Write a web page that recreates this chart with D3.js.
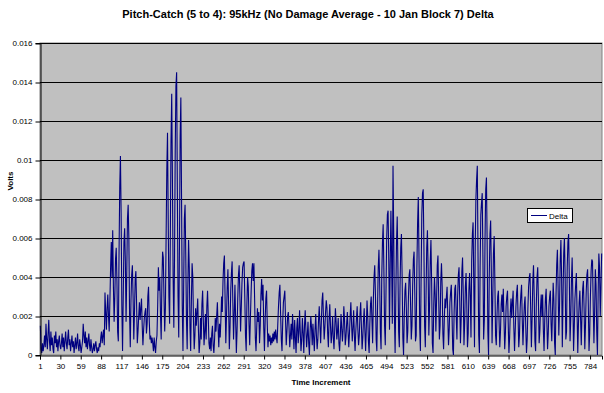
<!DOCTYPE html>
<html><head><meta charset="utf-8">
<script src="https://cdn.jsdelivr.net/npm/d3@7"></script>
<style>body{margin:0;background:#fff} svg{display:block} text{font-family:"Liberation Sans",Arial,sans-serif}</style>
</head><body><svg id="c" width="604" height="393"></svg>
<script>
const title = "Pitch-Catch (5 to 4): 95kHz (No Damage Average - 10 Jan Block 7) Delta";
const seriesName = "Delta";
const xAxisTitle = "Time Increment";
const yAxisTitle = "Volts";
const yTicks = [0, 0.002, 0.004, 0.006, 0.008, 0.01, 0.012, 0.014, 0.016];
const yTickLabels = ["0", "0.002", "0.004", "0.006", "0.008", "0.01", "0.012", "0.014", "0.016"];
const xTickLabels = [1, 30, 59, 88, 117, 146, 175, 204, 233, 262, 291, 320, 349, 378, 407, 436, 465, 494, 523, 552, 581, 610, 639, 668, 697, 726, 755, 784];
const delta = [
0.0015,0.0003,0.0001,0.0006,0.0002,0.0005,0.0010,0.0004,0.0016,0.0008,
0.0003,0.0011,0.0018,0.0007,0.0002,0.0012,0.0005,0.0009,0.0003,0.0001,
0.0010,0.0006,0.0012,0.0004,0.0008,0.0002,0.0007,0.0010,0.0005,0.0003,
0.0006,0.0011,0.0004,0.0009,0.0002,0.0007,0.0012,0.0006,0.0003,0.0009,
0.0013,0.0005,0.0008,0.0002,0.0006,0.0010,0.0004,0.0007,0.0001,0.0005,
0.0009,0.0003,0.0006,0.0011,0.0004,0.0002,0.0008,0.0005,0.0001,0.0004,
0.0007,0.0016,0.0010,0.0006,0.0012,0.0004,0.0009,0.0003,0.0007,0.0011,
0.0005,0.0002,0.0008,0.0004,0.0001,0.0003,0.0006,0.0002,0.0005,0.0007,
0.0003,0.0001,0.0004,0.0002,0.0006,0.0004,0.0009,0.0012,0.0006,0.0010,
0.0013,0.0005,
0.0032,0.0022,0.0013,0.0024,0.0031,0.0020,0.0012,0.0028,
0.0045,0.0058,0.0040,0.0064,0.0035,0.0017,0.0030,0.0049,0.0055,0.0038,
0.0012,0.0007,0.0052,0.0086,0.0102,0.0072,0.0025,0.0002,0.0030,0.0058,
0.0065,0.0048,0.0017,0.0042,0.0070,0.0077,0.0060,0.0021,0.0004,0.0028,
0.0041,0.0046,0.0030,0.0008,0.0022,0.0039,0.0043,0.0026,0.0006,0.0012,
0.0020,0.0027,0.0018,0.0024,0.0029,0.0015,0.0005,0.0013,0.0019,0.0022,
0.0024,0.0011,0.0016,0.0030,0.0035,0.0018,0.0008,0.0010,0.0006,0.0009,
0.0006,0.0002,0.0009,0.0004,0.0001,0.0007,0.0010,0.0025,0.0045,0.0033,
0.0040,0.0021,0.0008,0.0037,0.0053,0.0050,0.0030,0.0012,0.0024,0.0060,
0.0095,0.0114,0.0070,0.0030,0.0016,0.0060,0.0110,0.0134,0.0090,0.0040,
0.0014,0.0050,0.0105,0.0138,0.0145,0.0085,0.0030,0.0009,0.0055,0.0112,
0.0132,0.0080,0.0025,0.0002,0.0035,0.0070,0.0077,0.0051,0.0018,0.0003,
0.0036,0.0059,0.0045,0.0014,0.0002,0.0028,0.0047,0.0040,0.0017,0.0003,
0.0010,0.0024,0.0015,0.0022,0.0029,0.0013,0.0001,0.0006,0.0019,0.0008,
0.0026,0.0033,0.0018,0.0005,0.0012,0.0021,0.0008,0.0025,0.0033,0.0020,
0.0006,0.0003,0.0009,0.0002,0.0011,0.0015,0.0005,0.0001,0.0008,0.0019,
0.0012,0.0020,0.0027,0.0014,0.0004,0.0016,0.0009,0.0018,0.0030,0.0022,
0.0038,0.0047,0.0051,0.0028,0.0006,0.0020,0.0035,0.0044,0.0025,0.0003,
0.0014,0.0033,0.0042,0.0048,0.0027,0.0008,0.0021,0.0036,0.0018,0.0001,
0.0012,0.0029,0.0041,0.0046,0.0031,0.0012,0.0024,0.0037,0.0045,0.0047,
0.0048,0.0030,0.0010,0.0002,0.0026,0.0040,0.0035,0.0016,0.0005,0.0019,
0.0032,0.0043,0.0047,0.0038,0.0047,0.0029,0.0009,0.0002,0.0014,0.0024,
0.0017,0.0022,0.0006,0.0015,0.0031,0.0039,0.0028,0.0036,0.0014,0.0002,
0.0018,0.0029,0.0033,0.0016,0.0004,0.0011,0.0007,0.0010,0.0005,0.0009,
0.0006,0.0011,0.0007,0.0012,0.0008,0.0013,0.0009,0.0006,0.0016,0.0025,
0.0032,0.0036,0.0021,0.0008,0.0002,0.0017,0.0027,0.0030,0.0033,0.0018,
0.0005,0.0012,0.0020,0.0022,0.0014,0.0004,0.0010,0.0016,0.0008,0.0021,
0.0013,0.0003,0.0018,0.0009,0.0001,0.0014,0.0019,0.0006,0.0011,0.0023,
0.0012,0.0002,0.0008,0.0019,0.0011,0.0001,0.0015,0.0023,0.0013,0.0004,
0.0010,0.0017,0.0006,0.0000,0.0012,0.0020,0.0014,0.0005,0.0016,0.0009,
0.0002,0.0013,0.0021,0.0010,0.0003,0.0008,0.0018,0.0025,0.0015,0.0006,
0.0017,0.0028,0.0032,0.0019,0.0008,0.0014,0.0022,0.0028,0.0024,0.0011,
0.0004,0.0018,0.0026,0.0015,0.0006,0.0011,0.0020,0.0009,0.0003,0.0013,
0.0024,0.0017,0.0008,0.0012,0.0019,0.0006,0.0002,0.0010,0.0021,0.0014,
0.0007,0.0013,0.0025,0.0018,0.0005,0.0009,0.0016,0.0022,0.0012,0.0004,
0.0011,0.0020,0.0027,0.0016,0.0007,0.0014,0.0023,0.0010,0.0002,0.0012,
0.0019,0.0025,0.0013,0.0005,0.0010,0.0021,0.0027,0.0015,0.0003,0.0009,
0.0018,0.0024,0.0012,0.0002,0.0014,0.0028,0.0020,0.0007,0.0001,0.0016,
0.0026,0.0030,0.0018,0.0006,0.0028,0.0040,0.0046,0.0031,0.0008,0.0002,
0.0025,0.0045,0.0054,0.0038,0.0012,0.0003,0.0040,0.0058,0.0067,0.0044,
0.0015,0.0005,0.0032,0.0060,0.0072,0.0074,0.0048,0.0013,0.0046,0.0074,
0.0050,0.0016,0.0097,0.0062,0.0020,0.0001,0.0030,0.0058,0.0071,0.0045,
0.0012,0.0004,0.0035,0.0055,0.0062,0.0040,0.0009,0.0000,0.0020,0.0033,
0.0037,0.0024,0.0006,0.0012,0.0030,0.0041,0.0044,0.0026,0.0008,0.0015,
0.0036,0.0049,0.0053,0.0032,0.0007,0.0010,0.0045,0.0068,0.0081,0.0050,
0.0014,0.0002,0.0040,0.0072,0.0083,0.0085,0.0055,0.0015,0.0004,0.0030,
0.0055,0.0064,0.0044,0.0010,0.0024,0.0048,0.0059,0.0037,0.0006,0.0001,
0.0026,0.0040,0.0031,0.0012,0.0028,0.0046,0.0051,0.0030,0.0008,0.0015,
0.0038,0.0047,0.0035,0.0011,0.0003,0.0018,0.0029,0.0024,0.0030,0.0035,
0.0019,0.0005,0.0013,0.0027,0.0032,0.0036,0.0021,0.0003,0.0000,0.0022,
0.0034,0.0036,0.0020,0.0008,0.0030,0.0041,0.0045,0.0027,0.0006,0.0018,
0.0043,0.0050,0.0031,0.0005,0.0016,0.0035,0.0042,0.0026,0.0004,0.0011,
0.0033,0.0042,0.0030,0.0009,0.0048,0.0062,0.0068,0.0036,0.0004,0.0055,
0.0080,0.0090,0.0097,0.0052,0.0010,0.0001,0.0045,0.0072,0.0078,0.0083,
0.0050,0.0008,0.0018,0.0060,0.0085,0.0091,0.0058,0.0012,0.0000,0.0040,
0.0062,0.0069,0.0042,0.0006,0.0028,0.0052,0.0061,0.0038,0.0010,0.0005,
0.0020,0.0030,0.0033,0.0017,0.0004,0.0012,0.0026,0.0031,0.0022,0.0034,
0.0018,0.0003,0.0011,0.0025,0.0030,0.0033,0.0016,0.0001,0.0009,0.0022,
0.0029,0.0019,0.0027,0.0033,0.0014,0.0002,0.0013,0.0025,0.0032,0.0036,
0.0020,0.0004,0.0010,0.0024,0.0031,0.0036,0.0018,0.0005,0.0017,0.0026,
0.0030,0.0014,0.0001,0.0008,0.0024,0.0035,0.0040,0.0042,0.0023,0.0004,
0.0019,0.0038,0.0046,0.0030,0.0007,0.0002,0.0026,0.0040,0.0045,0.0028,
0.0006,0.0012,0.0024,0.0031,0.0020,0.0031,0.0013,0.0002,0.0018,0.0029,
0.0034,0.0017,0.0003,0.0011,0.0025,0.0030,0.0033,0.0016,0.0007,0.0022,
0.0037,0.0028,0.0006,0.0000,0.0030,0.0046,0.0054,0.0035,0.0010,0.0024,
0.0048,0.0059,0.0040,0.0004,0.0029,0.0052,0.0060,0.0041,0.0008,0.0012,
0.0045,0.0058,0.0062,0.0039,0.0007,0.0018,0.0038,0.0050,0.0030,0.0002,
0.0014,0.0029,0.0036,0.0042,0.0022,0.0001,0.0016,0.0027,0.0033,0.0019,
0.0005,0.0021,0.0034,0.0038,0.0024,0.0003,0.0015,0.0032,0.0041,0.0044,
0.0026,0.0002,0.0011,0.0030,0.0043,0.0049,0.0048,0.0025,0.0006,0.0022,
0.0044,0.0036,0.0012,0.0000,0.0031,0.0052,0.0045,0.0020,0.0035,0.0052
];
const timeIncrement = delta.map((d, i) => i + 1);

const svg = d3.select("#c");
const P = {left: 40, right: 602, top: 43, bottom: 355};
const x = d3.scaleLinear().domain([0.5, delta.length + 0.5]).range([P.left, P.right]);
const y = d3.scaleLinear().domain([0, 0.016]).range([P.bottom, P.top]);

svg.append("rect").attr("x", P.left).attr("y", P.top)
  .attr("width", P.right - P.left).attr("height", P.bottom - P.top)
  .attr("fill", "#C0C0C0").attr("stroke", "#808080").attr("stroke-width", 1);

svg.append("g").selectAll("line").data(yTicks.filter(v => v > 0)).join("line")
  .attr("x1", P.left).attr("x2", P.right)
  .attr("y1", d => Math.round(y(d)) + 0.5).attr("y2", d => Math.round(y(d)) + 0.5)
  .attr("stroke", "#000").attr("stroke-width", 1);

const line = d3.line().x((d, i) => x(timeIncrement[i])).y(d => y(d));
svg.append("path").datum(delta).attr("d", line)
  .attr("fill", "none").attr("stroke", "#000080").attr("stroke-width", 1.1)
  .attr("stroke-linejoin", "miter");

const yAxis = svg.append("g").attr("transform", `translate(${P.left + 0.5},0)`)
  .call(d3.axisLeft(y).tickValues(yTicks).tickFormat((d, i) => yTickLabels[i]).tickSize(5).tickPadding(3));
const xAxis = svg.append("g").attr("transform", `translate(0,${P.bottom + 0.5})`)
  .call(d3.axisBottom(x).tickValues(xTickLabels.map(v => v - 0.5)).tickFormat((d, i) => xTickLabels[i]).tickSize(4).tickPadding(4));
[yAxis, xAxis].forEach(g => {
  g.attr("font-family", null).attr("font-size", null);
  g.selectAll("text").attr("font-size", "8px").attr("fill", "#000");
  g.selectAll("line").attr("stroke", "#000");
  g.select(".domain").attr("stroke", "#000");
});
yAxis.selectAll(".tick line").attr("y1", 0.5).attr("y2", 0.5);

svg.append("text").attr("x", 308).attr("y", 18).attr("text-anchor", "middle")
  .attr("font-size", "11px").attr("font-weight", "bold").text(title);
svg.append("text").attr("x", 321).attr("y", 385).attr("text-anchor", "middle")
  .attr("font-size", "8px").attr("font-weight", "bold").text(xAxisTitle);
svg.append("text").attr("transform", `translate(13,181) rotate(-90)`)
  .attr("text-anchor", "middle").attr("font-size", "8px").attr("font-weight", "bold").text(yAxisTitle);

const lg = svg.append("g").attr("transform", "translate(527,208)");
lg.append("rect").attr("x", 0.5).attr("y", 0.5).attr("width", 45).attr("height", 14)
  .attr("fill", "#fff").attr("stroke", "#000");
lg.append("line").attr("x1", 4).attr("x2", 20).attr("y1", 7.5).attr("y2", 7.5)
  .attr("stroke", "#000080").attr("stroke-width", 1);
lg.append("text").attr("x", 22).attr("y", 10.5).attr("font-size", "8px").text(seriesName);
</script></body></html>
